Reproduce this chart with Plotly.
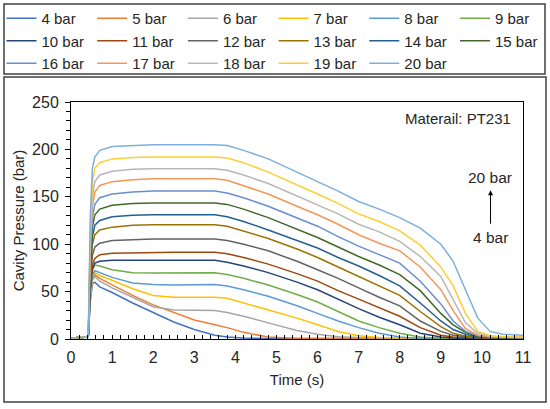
import plotly.graph_objects as go

# Time axis (s), shared by all pressure curves
time_s = [0, 0.42, 0.47, 0.52, 0.58, 0.7, 1.0, 1.5, 2.0, 2.5, 3.0, 3.5, 3.8, 4.2, 4.8,
          5.5, 6.0, 6.5, 7.0, 7.5, 8.0, 8.5, 9.0, 9.3, 9.6, 9.9, 10.2, 10.5, 11.0]

pressure_levels = ["4 bar", "5 bar", "6 bar", "7 bar", "8 bar", "9 bar", "10 bar", "11 bar",
                   "12 bar", "13 bar", "14 bar", "15 bar", "16 bar", "17 bar", "18 bar",
                   "19 bar", "20 bar"]

# Cavity pressure (bar)
p4 = [1, 2, 40, 58, 60, 55, 49, 38, 28, 18, 10, 4, 2, 1, 0.5, 0.5, 0.5, 0.5,
      0.5, 0.5, 0.5, 0.5, 0.5, 0.5, 0.5, 0.5, 0.5, 0.5, 0.5]
p5 = [1, 2, 44, 63, 68, 64, 57, 46, 36, 28, 20, 15, 12, 7, 2, 0.5, 0.5, 0.5,
      0.5, 0.5, 0.5, 0.5, 0.5, 0.5, 0.5, 0.5, 0.5, 0.5, 0.5]
p6 = [1, 2, 44, 62, 66, 61, 54, 44, 34, 30.5, 30.5, 30, 28, 24, 17, 9, 5, 2.5,
      1.5, 1, 0.5, 0.5, 0.5, 0.5, 0.5, 0.5, 0.5, 0.5, 0.5]
p7 = [1, 2, 46, 66, 70, 67, 62, 53, 46, 44, 44, 44, 43, 38, 31, 22, 15, 8,
      3.5, 1.5, 1, 0.5, 0.5, 0.5, 0.5, 0.5, 0.5, 0.5, 0.5]
p8 = [1, 2, 48, 68, 72, 70, 65, 59, 57.5, 57, 57.3, 57.5, 56, 52, 45, 35, 27, 19,
      12, 6, 2, 0.5, 0.5, 0.5, 0.5, 0.5, 0.5, 0.5, 0.5]
p9 = [1, 2, 50, 72, 78, 77, 73, 70, 69.5, 69.5, 69.7, 70, 68, 64, 57, 47, 39, 29,
      19, 12, 6, 2, 0.5, 0.5, 0.5, 0.5, 0.5, 0.5, 0.5]
p10 = [1, 2, 52, 74, 80, 82, 83, 83, 83, 83, 83, 83, 81, 77, 70, 60, 52, 42,
       32, 23, 15, 6, 2, 1, 0.5, 0.5, 0.5, 0.5, 0.5]
p11 = [1, 2, 55, 78, 85, 89, 90.5, 91, 91.5, 91.5, 91.5, 91.5, 90, 86, 79, 69, 61, 51,
       42, 33, 24, 12, 4, 2, 1.5, 1, 1, 1, 1]
p12 = [1, 2, 62, 88, 97, 101, 104, 105, 105.5, 105.5, 105.5, 105.5, 104, 100, 93, 82, 73, 64,
       54, 44, 35, 19, 8, 4, 2.5, 1.5, 1, 1, 1]
p13 = [1, 2, 70, 100, 110, 115, 118, 120, 120.5, 120.5, 120.5, 120.5, 119, 114, 106, 95, 86, 76,
       66, 56, 46, 29, 13, 6, 3, 1.5, 1, 1, 1]
p14 = [1, 2, 75, 108, 120, 125, 129, 130.5, 131, 131, 131, 131, 129, 124, 115, 104, 96, 86,
       77, 67, 56, 38, 19, 10, 5, 2, 1.5, 1, 1]
p15 = [1, 2, 80, 118, 131, 137, 141, 143, 143.5, 143.5, 143.5, 143.5, 142, 137, 128, 116, 107, 97,
       87, 78, 68, 51, 27, 15, 7, 2.5, 1.5, 1, 1]
p16 = [1, 2, 88, 128, 142, 149, 153, 155, 156, 156, 156, 156, 154, 149, 140, 128, 119, 108,
       98, 89, 80, 61, 37, 19, 8, 3.5, 2, 1.5, 1]
p17 = [1, 2, 95, 140, 155, 162, 166, 168, 169, 169, 169, 169, 167.5, 162, 153, 140, 131, 121,
       110, 101, 93, 76, 52, 30, 11, 4, 2.5, 2, 1.5]
p18 = [1, 2, 105, 150, 166, 173, 177, 179, 179.5, 179.5, 179.5, 179.5, 178, 173, 164, 151, 142, 132,
       121, 113, 103, 87, 66, 42, 17, 6, 3, 2, 2]
p19 = [1, 2, 115, 165, 180, 186, 190, 191.5, 192, 192, 192, 192, 191, 186, 176, 163, 153, 143,
       132, 124, 114, 99, 76, 56, 27, 8, 3.5, 2.5, 2]
p20 = [1, 2, 130, 180, 192, 199, 203, 204, 205, 205, 205, 205, 204, 199, 190, 176, 166, 156,
       145, 137, 128, 117, 100, 82, 52, 22, 8, 5, 4]

curves = [p4, p5, p6, p7, p8, p9, p10, p11, p12, p13, p14, p15, p16, p17, p18, p19, p20]

# Excel-style palette
line_colors = ["#4472C4", "#ED7D31", "#A5A5A5", "#FFC000", "#5B9BD5", "#70AD47",
               "#264478", "#9E480E", "#636363", "#997300", "#255E91", "#43682B",
               "#698ED0", "#F1975A", "#B7B7B7", "#FFCD33", "#7CAFDD"]

W, H = 550, 409
ML, MR, MT, MB = 71, 27, 102, 70
PW, PH = W - ML - MR, H - MT - MB
N_COLS = 6


def px_x(x):
    return (x - ML) / PW


def px_y(y):
    return (H - MB - y) / PH


def legend_id(k):
    return "legend" if k == 0 else f"legend{k + 1}"


fig = go.Figure()

for i, (name, values, color) in enumerate(zip(pressure_levels, curves, line_colors)):
    fig.add_trace(go.Scatter(
        x=time_s, y=values, mode="lines", name=name,
        line=dict(color=color, width=1.5),
        legend=legend_id(i % N_COLS)
    ))

text_color = "#262626"
frame_color = "#404040"

# one vertical legend per column, so the 6 x 3 grid never wraps
legends = {}
for k in range(N_COLS):
    legends[legend_id(k)] = dict(
        orientation="v", xref="paper", yref="paper",
        x=px_x(1.5 + k * 90.7), y=px_y(2), xanchor="left", yanchor="top",
        itemwidth=30, font=dict(size=15, color=text_color),
        bgcolor="rgba(0,0,0,0)", borderwidth=0
    )

fig.update_layout(
    width=W, height=H,
    margin=dict(l=ML, r=MR, t=MT, b=MB, autoexpand=False),
    paper_bgcolor="white", plot_bgcolor="white",
    font=dict(family="Liberation Sans, Arial, sans-serif", size=15, color=text_color),
    showlegend=True,
    xaxis=dict(
        range=[0, 11], tick0=0, dtick=1,
        showline=True, linecolor="black", linewidth=1, mirror=True,
        ticks="inside", ticklen=4, tickcolor="black",
        minor=dict(dtick=0.2, ticks="inside", ticklen=4, tickcolor="black"),
        showgrid=False, zeroline=False,
        tickfont=dict(size=16), ticklabelstandoff=4,
        title=dict(text="Time (s)", font=dict(size=15), standoff=9)
    ),
    yaxis=dict(
        range=[0, 250], tick0=0, dtick=50,
        showline=True, linecolor="black", linewidth=1, mirror=True,
        ticks="outside", ticklen=5, tickcolor="black",
        minor=dict(dtick=10, ticks="outside", ticklen=4, tickcolor="black"),
        showgrid=False, zeroline=False,
        tickfont=dict(size=16), ticklabelstandoff=3,
        title=dict(text="Cavity Pressure (bar)", font=dict(size=15), standoff=3)
    ),
    shapes=[
        # legend frame
        dict(type="rect", xref="paper", yref="paper",
             x0=px_x(4), x1=px_x(545), y0=px_y(74), y1=px_y(4),
             line=dict(color=frame_color, width=1.5)),
        # chart frame
        dict(type="rect", xref="paper", yref="paper",
             x0=px_x(4), x1=px_x(546), y0=px_y(402), y1=px_y(77),
             line=dict(color=frame_color, width=1.5)),
    ],
    annotations=[
        dict(text="Materail: PT231", xref="paper", yref="y", x=px_x(513), y=232.5,
             xanchor="right", yanchor="middle", showarrow=False, font=dict(size=15)),
        dict(text="20 bar", xref="x", yref="y", x=10.19, y=170,
             showarrow=False, font=dict(size=15.5)),
        dict(text="4 bar", xref="x", yref="y", x=10.21, y=107,
             showarrow=False, font=dict(size=15.5)),
        dict(text="", xref="x", yref="y", x=10.21, y=157,
             axref="x", ayref="y", ax=10.21, ay=120,
             showarrow=True, arrowhead=2, arrowsize=1, arrowwidth=1,
             arrowcolor="black", standoff=0, startstandoff=0),
    ],
    **legends
)

# drop the browser's default body margin so the 550x409 figure fills the window
fig.write_html(
    "out.html",
    config={"displayModeBar": False},
    post_script="document.body.style.margin='0px';"
)
